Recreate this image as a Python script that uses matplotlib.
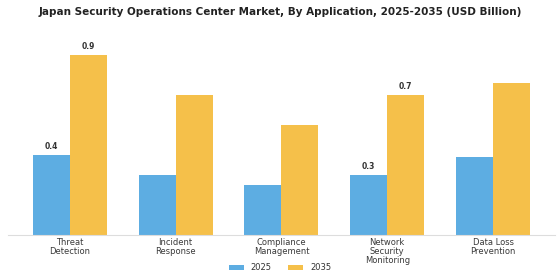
import matplotlib
matplotlib.use("Agg")
import matplotlib.pyplot as plt
import numpy as np

categories = ["Threat\nDetection", "Incident\nResponse", "Compliance\nManagement",
              "Network\nSecurity\nMonitoring", "Data Loss\nPrevention"]
values_2025 = [0.40, 0.30, 0.25, 0.30, 0.39]
values_2035 = [0.90, 0.70, 0.55, 0.70, 0.76]
labels_2025 = ["0.4", "", "", "0.3", ""]
labels_2035 = ["0.9", "", "", "0.7", ""]
series = ["2025", "2035"]

c25 = "#5DADE2"
c35 = "#F5C04A"

fig = plt.figure(figsize=(5.6, 2.8), dpi=100)
ax = fig.add_axes([0.014, 0.161, 0.977, 0.707])
x = np.arange(len(categories))
w = 0.35
b1 = ax.bar(x - w/2, values_2025, w, color=c25, label=series[0])
b2 = ax.bar(x + w/2, values_2035, w, color=c35, label=series[1])
for bars, labs in ((b1, labels_2025), (b2, labels_2035)):
    for r, t in zip(bars, labs):
        if t:
            ax.text(r.get_x() + r.get_width()/2, r.get_height() + 0.02, t,
                    ha="center", va="bottom", fontsize=5.5, fontweight="bold", color="#333333")
ax.set_ylim(0, 0.99)
ax.set_yticks([])
ax.set_xticks(x)
ax.set_xticklabels(categories, fontsize=6, color="#3a3a3a", linespacing=1.0)
ax.tick_params(axis="x", length=0, pad=2)
for s in ["top", "right", "left"]:
    ax.spines[s].set_visible(False)
ax.spines["bottom"].set_color("#dddddd")
ax.spines["bottom"].set_linewidth(0.8)
fig.suptitle("Japan Security Operations Center Market, By Application, 2025-2035 (USD Billion)",
             fontsize=7.5, fontweight="bold", color="#222222", y=0.975)
fig.legend(handles=[b1, b2], labels=series, loc="lower center", bbox_to_anchor=(0.5, 0.0),
           ncol=2, frameon=False, fontsize=6, handlelength=1.8, handleheight=0.6,
           columnspacing=2.0, labelcolor="#333333")
fig.savefig("out.png", dpi=100, facecolor="white")
